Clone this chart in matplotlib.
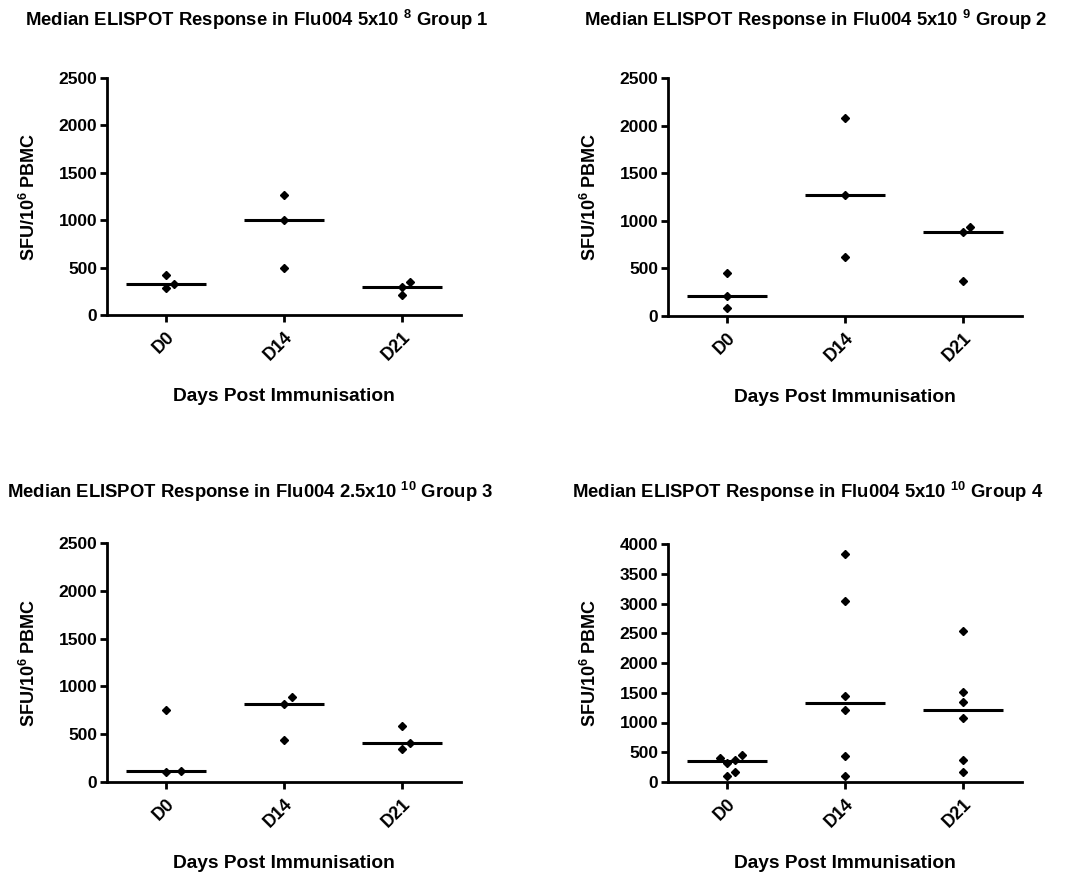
import numpy as np
import matplotlib
matplotlib.use("Agg")
import matplotlib.pyplot as plt

plt.rcParams['font.family'] = ['Liberation Sans', 'DejaVu Sans']
plt.rcParams['font.weight'] = 'bold'
plt.rcParams['mathtext.fontset'] = 'custom'
plt.rcParams['mathtext.rm'] = 'Liberation Sans:bold'
plt.rcParams['mathtext.bf'] = 'Liberation Sans:bold'
plt.rcParams['mathtext.it'] = 'Liberation Sans:bold'

# days post immunisation
days = ["D0", "D14", "D21"]

# SFU/10^6 PBMC per subject
g1_d0 = [290, 325, 420]
g1_d14 = [500, 1000, 1265]
g1_d21 = [210, 300, 350]

g2_d0 = [85, 205, 455]
g2_d14 = [615, 1270, 2075]
g2_d21 = [370, 885, 935]

g3_d0 = [100, 115, 750]
g3_d14 = [440, 820, 885]
g3_d21 = [345, 410, 590]

g4_d0 = [100, 170, 320, 370, 410, 455]
g4_d14 = [95, 430, 1210, 1450, 3040, 3840]
g4_d21 = [165, 370, 1070, 1340, 1515, 2540]

titles = [
    r"Median ELISPOT Response in Flu004 5x10 $^{8}$ Group 1",
    r"Median ELISPOT Response in Flu004 5x10 $^{9}$ Group 2",
    r"Median ELISPOT Response in Flu004 2.5x10 $^{10}$ Group 3",
    r"Median ELISPOT Response in Flu004 5x10 $^{10}$ Group 4",
]
groups = [
    [g1_d0, g1_d14, g1_d21],
    [g2_d0, g2_d14, g2_d21],
    [g3_d0, g3_d14, g3_d21],
    [g4_d0, g4_d14, g4_d21],
]
ymax = [2500, 2500, 2500, 4000]

W, H = 1071, 875
fig = plt.figure(figsize=(W / 100, H / 100), dpi=100)

# axes boxes in pixels: left, top, right, bottom
boxes = [(107, 78, 461, 315), (668, 78, 1022, 316),
         (107, 543, 461, 782), (668, 544, 1022, 782)]
title_pos = [(25, 20), (584, 20), (7, 492), (572, 492)]


def swarm(ax, x, vals, diam=8.0, step=7.5):
    # simple beeswarm in pixel space so touching points sit side by side
    placed = []
    offs = []
    pix_per_x = ax.transData.transform((1, 0))[0] - ax.transData.transform((0, 0))[0]
    for v in vals:
        py = ax.transData.transform((0, v))[1]
        for k in [0, 1, -1, 2, -2, 3, -3]:
            px = k * step
            if all((px - qx) ** 2 + (py - qy) ** 2 >= diam ** 2 for qx, qy in placed):
                break
        placed.append((px, py))
        offs.append(x + px / pix_per_x)
    return offs


for i, (box, data) in enumerate(zip(boxes, groups)):
    l, t, r, b = box
    ax = fig.add_axes([l / W, 1 - b / H, (r - l) / W, (b - t) / H])
    ax.set_xlim(-0.5, 2.5)
    ax.set_ylim(0, ymax[i])
    ax.set_yticks(np.arange(0, ymax[i] + 1, 500))
    for j, vals in enumerate(data):
        vals = sorted(vals)
        xs = swarm(ax, j, vals)
        ax.plot(xs, vals, 'D', color='black', ms=4.3, clip_on=False, zorder=3)
        ax.plot([j - 0.34, j + 0.34], [np.median(vals)] * 2, color='black', lw=2.2,
                solid_capstyle='butt', zorder=2)
    ax.set_xticks(range(len(days)))
    ax.set_xticklabels(days, rotation=45, ha='right', rotation_mode='anchor',
                       fontsize=13)
    for side in ['top', 'right']:
        ax.spines[side].set_visible(False)
    for side in ['left', 'bottom']:
        ax.spines[side].set_linewidth(2)
    ax.tick_params(width=2, length=5, pad=2)
    ax.tick_params(axis='x', pad=5)
    ax.tick_params(axis='y', labelsize=12.5)
    ax.set_ylabel(r"SFU/10$^{6}$ PBMC", fontsize=13, fontweight='bold', labelpad=14)
    ax.set_xlabel("Days Post Immunisation", fontsize=13.8, fontweight='bold', labelpad=17)
    tx, ty = title_pos[i]
    fig.text(tx / W, 1 - ty / H, titles[i], fontsize=13.3, fontweight='bold',
             ha='left', va='center')

fig.savefig("out.png", dpi=100, facecolor='white')
